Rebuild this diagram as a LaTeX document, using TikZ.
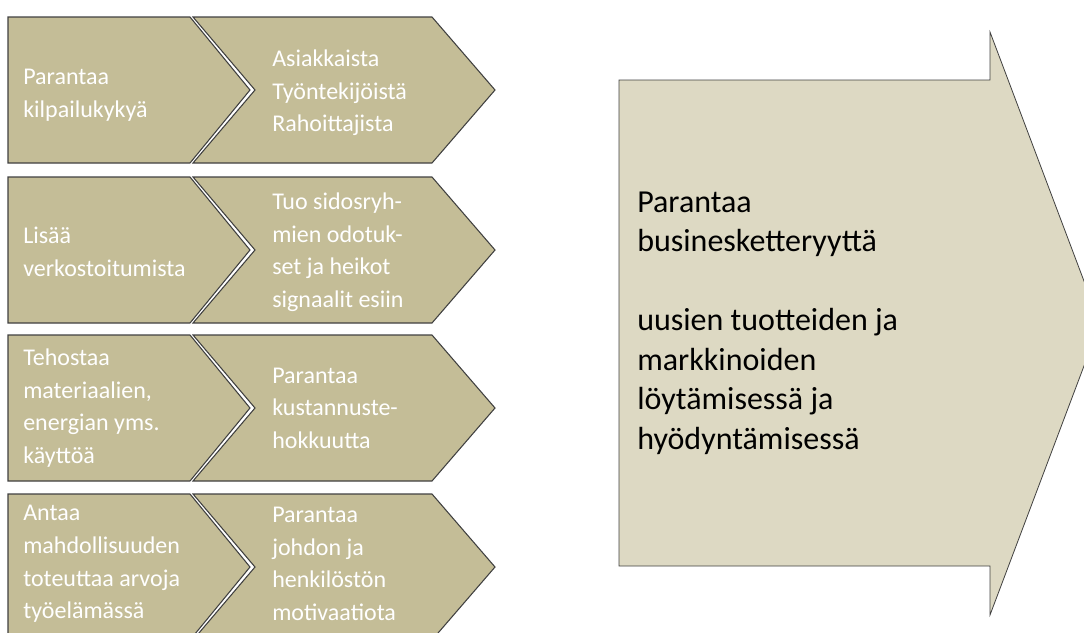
\documentclass[tikz,border=0pt]{standalone}
\usepackage{fontspec}
\setmainfont{Carlito}
\definecolor{chevfill}{HTML}{C4BD97}
\definecolor{arrowfill}{HTML}{DDD9C3}
\definecolor{edge}{HTML}{404040}
\begin{document}
\begin{tikzpicture}[x=0.75pt,y=-0.75pt,
  chevron/.style={fill=chevfill,draw=edge,line width=0.8pt,line join=miter},
  bigarrow/.style={fill=arrowfill,draw=edge,line width=0.6pt,line join=miter},
  lefttext/.style={anchor=west,inner sep=0pt,align=left,text=white,
    font=\fontsize{18}{24.4}\selectfont},
  righttext/.style={anchor=west,inner sep=0pt,align=left,text=black,
    font=\fontsize{24}{29.6}\selectfont}]
\useasboundingbox (0,0) rectangle (1084,632);
\clip (0,0) rectangle (1084,632);

% four rows of paired chevrons (top edge of each row)
\foreach \t in {17,177,335,494}{
  \draw[chevron] (8,\t) -- (190,\t) -- (250,\t+73) -- (190,\t+146)
    -- (8,\t+146) -- cycle;
  \draw[chevron] (193,\t) -- (432,\t) -- (495,\t+73) -- (432,\t+146)
    -- (193,\t+146) -- (255,\t+73) -- cycle;
}

% large block arrow on the right
\draw[bigarrow] (619,80) -- (990,80) -- (990,32) -- (1100,323.5)
  -- (990,615) -- (990,566) -- (619,566) -- cycle;

% row 1
\node[lefttext] (a1) at (23,95) {Parantaa\\kilpailukykyä};
\node[lefttext] (b1) at (272,93) {Asiakkaista\\Työntekijöistä\\Rahoittajista};
% row 2
\node[lefttext] (a2) at (23,252) {Lisää\\verkostoitumista};
\node[lefttext] (b2) at (272,252) {Tuo sidosryh-\\mien odotuk-\\set ja heikot\\signaalit esiin};
% row 3
\node[lefttext] (a3) at (23,408) {Tehostaa\\materiaalien,\\energian yms.\\käyttöä};
\node[lefttext] (b3) at (272,408) {Parantaa\\kustannuste-\\hokkuutta};
% row 4
\node[lefttext] (a4) at (23,564) {Antaa\\mahdollisuuden\\toteuttaa arvoja\\työelämässä};
\node[lefttext] (b4) at (272,564) {Parantaa\\johdon ja\\henkilöstön\\motivaatiota};

% text inside the block arrow
\node[righttext] (c) at (637,323) {Parantaa\\businesketteryyttä\\[29.6pt]uusien tuotteiden ja\\markkinoiden\\löytämisessä ja\\hyödyntämisessä};
\end{tikzpicture}
\end{document}
